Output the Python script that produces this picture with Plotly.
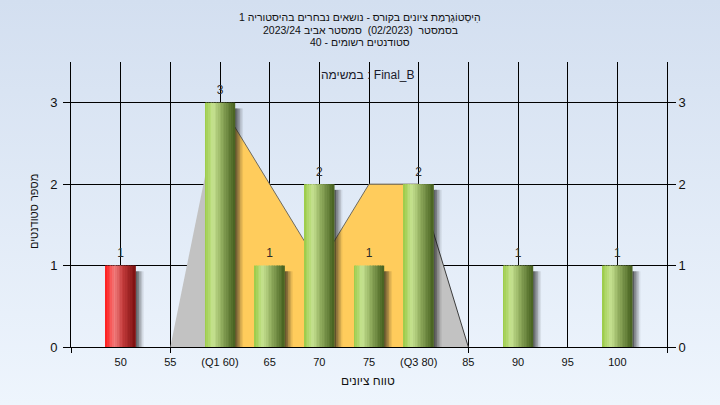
import base64
import plotly.graph_objects as go

# ---------------- data ----------------
categories = [50, 55, 60, 65, 70, 75, 80, 85, 90, 95, 100]
tick_labels = ["50", "55", "(Q1 60)", "65", "70", "75", "(Q3 80)", "85", "90", "95", "100"]
counts = [1, 0, 3, 1, 2, 1, 2, 0, 1, 0, 1]
curve_x = [55, 60, 65, 70, 75, 80, 85]
curve_y = [0, 3, 2, 1, 2, 2, 0]
q1_grade = 60
q3_grade = 80
fail_below = 55
tick_marks_x = [55, 85]
title_lines = [
    "הִיסְטוֹגְרָמַת ציונים בקורס - נושאים נבחרים בהיסטוריה 1",
    "בסמסטר  (02/2023)  סמסטר אביב 2023/24",
    "סטודנטים רשומים - 40",
]
task_label = "במשימה : Final_B"
x_title = "טווח ציונים"
y_title = "מספר סטודנטים"

# ---------------- layout constants ----------------
W, H = 720, 405
ML, MR, MT, MB = 71, 53, 62, 58
PW, PH = W - ML - MR, H - MT - MB
FONT = "Liberation Sans, Arial, sans-serif"


def px(xp):
    return (xp - ML) / PW


def py(yp):
    return (H - MB - yp) / PH


def hex2rgb(h):
    h = h.lstrip("#")
    return tuple(int(h[i:i + 2], 16) for i in (0, 2, 4))


def grad(stops, t):
    for (t0, c0), (t1, c1) in zip(stops, stops[1:]):
        if t0 <= t <= t1:
            f = (t - t0) / (t1 - t0) if t1 > t0 else 0
            a, b = hex2rgb(c0), hex2rgb(c1)
            return "rgb(%d,%d,%d)" % tuple(round(a[k] + (b[k] - a[k]) * f) for k in range(3))
    return stops[-1][1]


green_stops = [(0.0, "#9acb45"), (0.28, "#c7e392"), (0.55, "#94b061"), (1.0, "#46601f")]
red_stops = [(0.0, "#ff1a1a"), (0.3, "#f27c7c"), (0.6, "#c23a3a"), (1.0, "#7c1010")]

fig = go.Figure()

# area curve (main subplot, under the bars): gray outside Q1..Q3, yellow inside
i1, i3 = curve_x.index(q1_grade), curve_x.index(q3_grade)
fig.add_trace(go.Scatter(x=curve_x[:i1 + 1], y=curve_y[:i1 + 1], fill="tozeroy", mode="lines",
                         fillcolor="#c2c2c2", line=dict(width=0, color="#c2c2c2"), hoverinfo="skip"))
fig.add_trace(go.Scatter(x=curve_x[i1:i3 + 1], y=curve_y[i1:i3 + 1], fill="tozeroy", mode="lines",
                         fillcolor="#ffcc5c", line=dict(width=1, color="#6e6a5e"), hoverinfo="skip"))
fig.add_trace(go.Scatter(x=curve_x[i3:], y=curve_y[i3:], fill="tozeroy", mode="lines",
                         fillcolor="#c2c2c2", line=dict(width=1, color="#3c3c3c"), hoverinfo="skip"))

BAR_W = 3.0
# soft shadows (overlay subplot so they sit above the area)
sh_w = 0.16
sh_alpha = [0.65, 0.5, 0.35, 0.2, 0.08]
sh_drop = 0.07
for j, a in enumerate(sh_alpha):
    fig.add_trace(go.Bar(x=categories, y=[max(v - sh_drop, 0) for v in counts],
                         xaxis="x2", yaxis="y2",
                         width=sh_w + 0.02, offset=BAR_W / 2 + j * sh_w,
                         marker=dict(color="rgba(25,25,25,%.2f)" % a, line=dict(width=0)),
                         hoverinfo="skip"))

# cylinder-like gradient bars built from slices
N = 18
sw = BAR_W / N
for i in range(N):
    t = (i + 0.5) / N
    cols = [grad(red_stops if c < fail_below else green_stops, t) for c in categories]
    fig.add_trace(go.Bar(x=categories, y=counts, width=sw + 0.03, offset=-BAR_W / 2 + i * sw,
                         xaxis="x2", yaxis="y2",
                         marker=dict(color=cols, line=dict(width=0)), hoverinfo="skip"))

# value labels
lab_x = [c for c, v in zip(categories, counts) if v > 0]
lab_y = [v for v in counts if v > 0]
fig.add_trace(go.Scatter(x=lab_x, y=lab_y, mode="markers+text", text=[str(v) for v in lab_y],
                         xaxis="x2", yaxis="y2", marker=dict(size=7, opacity=0),
                         textposition="top center", cliponaxis=False,
                         textfont=dict(family=FONT, size=12, color="#2b2b2b"), hoverinfo="skip"))

# background gradient
svg = ('<svg xmlns="http://www.w3.org/2000/svg" width="720" height="405" preserveAspectRatio="none">'
       '<defs><linearGradient id="g" x1="0" y1="0" x2="0" y2="1">'
       '<stop offset="0" stop-color="#d3dff0"/><stop offset="1" stop-color="#eef5fd"/>'
       '</linearGradient></defs><rect width="720" height="405" fill="url(#g)"/></svg>')
src = "data:image/svg+xml;base64," + base64.b64encode(svg.encode()).decode()

xr = [categories[0] - 5, categories[-1] + 5]
yr = [0, 3.5]

annotations = []
for k, line in enumerate(title_lines):
    annotations.append(dict(text=line, x=px(360), y=py(17 + k * 12.5), xref="paper", yref="paper",
                            showarrow=False, xanchor="center", yanchor="middle",
                            font=dict(family=FONT, size=10.5, color="#111111")))
annotations.append(dict(text=task_label, x=px(368), y=py(75), xref="paper", yref="paper",
                        showarrow=False, xanchor="center", yanchor="middle",
                        font=dict(family=FONT, size=12, color="#1a1a2a")))
annotations.append(dict(text=x_title, x=px(368), y=py(381), xref="paper", yref="paper",
                        showarrow=False, xanchor="center", yanchor="middle",
                        font=dict(family=FONT, size=12, color="#111111")))
annotations.append(dict(text=y_title, x=px(34), y=py(212), xref="paper", yref="paper",
                        showarrow=False, xanchor="center", yanchor="middle", textangle=-90,
                        font=dict(family=FONT, size=11, color="#111111")))

fig.update_layout(
    width=W, height=H, autosize=False,
    margin=dict(l=ML, r=MR, t=MT, b=MB, pad=0),
    paper_bgcolor="#e2ebf7", plot_bgcolor="#b4b4b4",
    barmode="overlay", showlegend=False,
    images=[dict(source=src, xref="paper", yref="paper", x=px(0), y=py(0),
                 sizex=W / PW, sizey=H / PH, xanchor="left", yanchor="top",
                 sizing="stretch", layer="below")],
    annotations=annotations,
    xaxis=dict(range=xr, tickmode="array", tickvals=categories, ticktext=tick_labels,
               ticks="", showgrid=True, gridcolor="#000000", gridwidth=1,
               showline=True, linecolor="#000000", linewidth=1, zeroline=False,
               ticklabelstandoff=5,
               tickfont=dict(family=FONT, size=11, color="#111111"), fixedrange=True),
    xaxis2=dict(range=xr, overlaying="x", anchor="y", side="bottom", tickmode="array",
                tickvals=[xr[0]] + tick_marks_x + [xr[1]], showticklabels=False,
                ticks="outside", ticklen=5, tickcolor="#000000", showgrid=False,
                showline=False, zeroline=False, fixedrange=True),
    yaxis=dict(range=yr, tickmode="array", tickvals=[0, 1, 2, 3], ticks="outside", ticklen=7,
               tickcolor="#000000", showgrid=True, gridcolor="#000000", gridwidth=1,
               showline=True, linecolor="#000000", linewidth=1, zeroline=False,
               ticklabelstandoff=3,
               tickfont=dict(family=FONT, size=13, color="#111111"), fixedrange=True),
    yaxis2=dict(range=yr, overlaying="y", anchor="x", side="right", tickmode="array",
                tickvals=[0, 1, 2, 3], ticks="outside", ticklen=8, tickcolor="#000000",
                showgrid=False, showline=True, linecolor="#000000", linewidth=1,
                zeroline=False, tickfont=dict(family=FONT, size=13, color="#111111"),
                fixedrange=True),
)

fig.write_html("out.html", config={"displayModeBar": False},
               post_script="document.body.style.margin='0';document.body.style.overflow='hidden';")
